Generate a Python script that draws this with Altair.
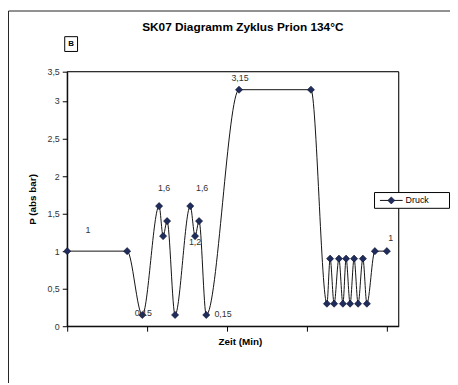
import altair as alt
import pandas as pd

# ---- data ----
zeit = [0, 7.5, 9.4, 11.5, 12.0, 12.5, 13.5, 15.4, 16.0, 16.5, 17.4, 21.5, 30.5,
        32.5, 32.9, 33.4, 34.0, 34.5, 34.9, 35.4, 35.9, 36.4, 37.0, 37.5, 38.5, 40.0]
druck = [1, 1, 0.15, 1.6, 1.2, 1.4, 0.15, 1.6, 1.2, 1.4, 0.15, 3.15, 3.15,
         0.3, 0.9, 0.3, 0.9, 0.3, 0.9, 0.3, 0.9, 0.3, 0.9, 0.3, 1, 1]
series_name = "Druck"

label_index = [0, 2, 3, 7, 8, 10, 11, 25]
label_text = ["1", "0,15", "1,6", "1,6", "1,2", "0,15", "3,15", "1"]
label_dx = [21, 1, 5, 12, 0, 17, 1, 4]
label_dy = [-21, -2, -18, -18, 6, -1, -12, -13]

y_ticks = [0, 0.5, 1, 1.5, 2, 2.5, 3, 3.39]
x_ticks = [0, 10, 20, 30, 40]

title_text = "SK07 Diagramm Zyklus Prion 134°C"
x_title = "Zeit (Min)"
y_title = "P (abs bar)"

FONT = "Liberation Sans"
W, H = 336, 258

df = pd.DataFrame({"zeit": zeit, "druck": druck, "serie": series_name})
one = pd.DataFrame({"a": [0]})

xs = alt.Scale(domain=[0, 41.48], nice=False, zero=False)
ys = alt.Scale(domain=[0, 3.39], nice=False)

x_enc = alt.X("zeit:Q", scale=xs, axis=alt.Axis(
    values=x_ticks, labels=False, grid=False, ticks=True, tickSize=5,
    tickColor="#000", domainColor="#000", title=x_title,
    titleFont=FONT, titleFontSize=10, titleFontWeight="bold", titleColor="#000",
    titleX=175, titleY=16, titleBaseline="middle", titleAlign="center"))
y_enc = alt.Y("druck:Q", scale=ys, axis=alt.Axis(
    values=y_ticks, grid=False, tickSize=5, tickColor="#000", domainColor="#000",
    labelFont=FONT, labelFontSize=9, labelColor="#333", labelPadding=3,
    labelOverlap=False,
    labelExpr="datum.value > 3.2 ? '3,5' : replace(format(datum.value, ''), '.', ',')",
    title=y_title, titleFont=FONT, titleFontSize=10, titleFontWeight="bold",
    titleColor="#000", titleX=-35, titleY=129, titleAngle=270,
    titleBaseline="middle", titleAlign="center"))

base = alt.Chart(df)
line = base.mark_line(color="#111", strokeWidth=1, interpolate="monotone").encode(x=x_enc, y=y_enc)
pts = base.mark_point(shape="diamond", filled=True, size=52, color="#1f2d5c",
                      stroke="#0a0a2a", strokeWidth=0.6, opacity=1).encode(x=x_enc, y=y_enc)

labels = []
for i, t, dx, dy in zip(label_index, label_text, label_dx, label_dy):
    d = pd.DataFrame({"zeit": [zeit[i]], "druck": [druck[i]], "t": [t]})
    labels.append(alt.Chart(d).mark_text(font=FONT, fontSize=9, color="#333", dx=dx, dy=dy,
                                         align="center", baseline="middle")
                  .encode(x=x_enc, y=y_enc, text="t:N"))

# decorations: outer frame, plot frame, "B" box, title, legend
frame = alt.Chart(one).mark_rect(filled=False, stroke="#222", strokeWidth=1).encode(
    x=alt.value(-59.5), x2=alt.value(600), y=alt.value(-61.5), y2=alt.value(500))
pframe = alt.Chart(one).mark_rect(filled=False, stroke="#000", strokeWidth=1).encode(
    x=alt.value(0), x2=alt.value(W), y=alt.value(0), y2=alt.value(H))
bbox = alt.Chart(one).mark_rect(filled=False, stroke="#000", strokeWidth=1).encode(
    x=alt.value(-2.5), x2=alt.value(10.5), y=alt.value(-35.5), y2=alt.value(-20.5))
btxt = alt.Chart(one).mark_text(text="B", font=FONT, fontSize=8, fontWeight="bold",
                                align="center", baseline="middle", color="#000").encode(
    x=alt.value(4), y=alt.value(-28))
title = alt.Chart(one).mark_text(text=title_text, font=FONT, fontSize=12, fontWeight="bold",
                                 align="center", baseline="middle", color="#000").encode(
    x=alt.value(178), y=alt.value(-45))
leg_box = alt.Chart(one).mark_rect(fill="#fff", stroke="#000", strokeWidth=1).encode(
    x=alt.value(311.5), x2=alt.value(387.5), y=alt.value(122.5), y2=alt.value(138.5))
leg_line = alt.Chart(one).mark_rule(color="#111", strokeWidth=1).encode(
    x=alt.value(317), x2=alt.value(340), y=alt.value(130.5))
leg_pt = alt.Chart(one).mark_point(shape="diamond", filled=True, size=52, color="#1f2d5c",
                                   stroke="#0a0a2a", strokeWidth=0.6, opacity=1).encode(
    x=alt.value(328.5), y=alt.value(130.5))
leg_txt = alt.Chart(one).mark_text(text=series_name, font=FONT, fontSize=9, color="#000",
                                   align="left", baseline="middle").encode(
    x=alt.value(343), y=alt.value(130.5))

chart = alt.layer(frame, pframe, line, pts, *labels, bbox, btxt, title,
                  leg_box, leg_line, leg_pt, leg_txt).properties(
    width=W, height=H,
    autosize=alt.AutoSizeParams(type="none"),
    padding={"left": 60, "top": 62, "right": 52, "bottom": 55},
).configure_view(stroke="#000", strokeWidth=1).configure(background="#fff")

chart.save("out.html", embed_options={"renderer": "svg", "actions": False})
